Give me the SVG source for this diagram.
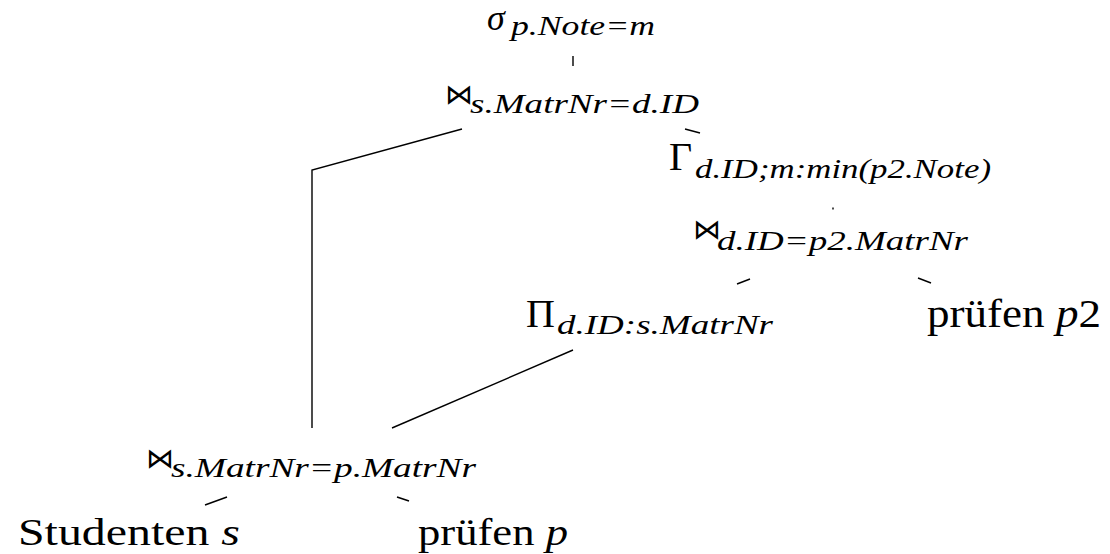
<svg xmlns="http://www.w3.org/2000/svg" width="1110" height="554" viewBox="0 0 1110 554">
<style>
.big{font-family:"Liberation Serif","DejaVu Serif",serif;font-size:40px;fill:#000}
.it{font-style:italic}
.sub{font-family:"Liberation Serif","DejaVu Serif",serif;font-style:italic;font-size:27px;fill:#000}
.bow{font-family:"DejaVu Sans",sans-serif;font-size:28px;fill:#000}
.edge{stroke:#000;stroke-width:1.4;fill:none;stroke-linecap:butt}
</style>
<rect width="1110" height="554" fill="#fff"/>
<g id="connectors">
<line class="edge" x1="573" y1="56" x2="573" y2="66"/>
<polyline class="edge" points="462,129 312,170 312,428"/>
<line class="edge" x1="685" y1="129" x2="700" y2="133"/>
<line class="edge" x1="833" y1="207.5" x2="833" y2="209.5"/>
<line class="edge" x1="737" y1="284" x2="750" y2="279"/>
<line class="edge" x1="918" y1="278" x2="931" y2="283"/>
<line class="edge" x1="573" y1="350" x2="392" y2="428"/>
<line class="edge" x1="205" y1="505" x2="227" y2="497"/>
<line class="edge" x1="397" y1="497" x2="409" y2="501"/>
</g>
<g id="select">
<text class="big it" x="487" y="30" style="font-size:36px">σ</text>
<text class="sub" x="511" y="35" textLength="144" lengthAdjust="spacingAndGlyphs">p.Note=m</text>
</g>
<g id="join1">
<text class="bow" x="445" y="104">⋈</text>
<text class="sub" x="470" y="113" textLength="229" lengthAdjust="spacingAndGlyphs">s.MatrNr=d.ID</text>
</g>
<g id="group">
<text class="big" x="669" y="170">Γ</text>
<text class="sub" x="695" y="178" textLength="296" lengthAdjust="spacingAndGlyphs">d.ID;m:min(p2.Note)</text>
</g>
<g id="join2">
<text class="bow" x="693" y="239">⋈</text>
<text class="sub" x="717" y="250" textLength="251" lengthAdjust="spacingAndGlyphs">d.ID=p2.MatrNr</text>
</g>
<g id="project">
<text class="big" x="526" y="327">Π</text>
<text class="sub" x="557" y="334" textLength="216" lengthAdjust="spacingAndGlyphs">d.ID:s.MatrNr</text>
</g>
<g id="pruefen2">
<text class="big" x="927" y="327" textLength="174" lengthAdjust="spacingAndGlyphs">prüfen <tspan class="it">p</tspan>2</text>
</g>
<g id="join3">
<text class="bow" x="146" y="468">⋈</text>
<text class="sub" x="171" y="477" textLength="305" lengthAdjust="spacingAndGlyphs">s.MatrNr=p.MatrNr</text>
</g>
<g id="studenten">
<text class="big" x="18" y="545" style="font-size:38px" textLength="222" lengthAdjust="spacingAndGlyphs">Studenten <tspan class="it">s</tspan></text>
</g>
<g id="pruefen">
<text class="big" x="418" y="545" style="font-size:38px" textLength="150" lengthAdjust="spacingAndGlyphs">prüfen <tspan class="it">p</tspan></text>
</g>
</svg>
